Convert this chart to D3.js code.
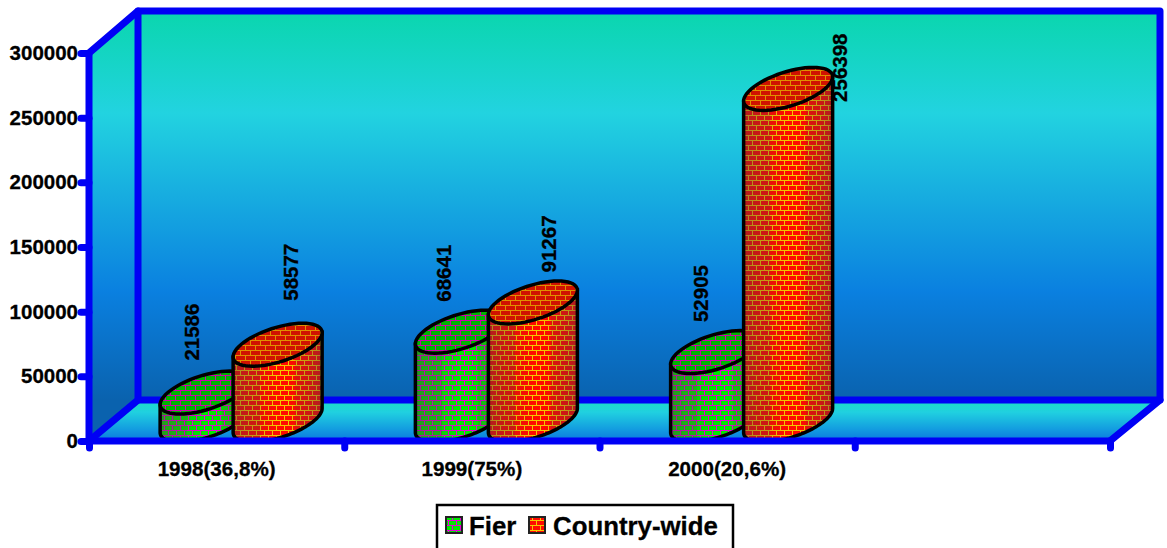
<!DOCTYPE html>
<html lang="en">
<head>
<meta charset="UTF-8">
<title>Fier / Country-wide</title>
<script src="https://d3js.org/d3.v7.min.js"></script>
<style>
  html, body { margin: 0; background: #fff; overflow: hidden; }
  svg { display: block; }
  text { font-family: "Liberation Sans", Arial, sans-serif; font-weight: bold; fill: #000; stroke: #000; stroke-width: .3px; }
  .axis path { display: none; }
  .axis line { stroke: #0000f5; stroke-width: 7; stroke-linecap: round; }
  .axis text { font-size: 20.5px; font-family: "Liberation Sans", Arial, sans-serif; font-weight: bold; }
</style>
</head>
<body>
<div id="chart"></div>
<script>
const categories = ["1998(36,8%)", "1999(75%)", "2000(20,6%)", ""];
const seriesNames = ["Fier", "Country-wide"];
const fierValues = [21586, 68641, 52905];
const countryValues = [58577, 91267, 256398];
const yTicks = [0, 50000, 100000, 150000, 200000, 250000, 300000];

const width = 1167, height = 548;
const blue = "#0000f5";

// box of the 3d plot: front plane plus the shift to the back plane
const left = 89, right = 1110, top3d = 53, bottom = 441;
const depthX = 49, depthY = 41;

// cylinder shape
const halfW = 44.5, shearX = 25, shearY = 21.5, barGap = 36.5;

// nudges for the value labels [dx, dy] from centre of the top ellipse
const labelNudge = [
  [[-13, -32], [13, -44]],
  [[-16, -30], [16, -30]],
  [[-14, -30], [52, 13]]
];

const x = d3.scaleBand().domain(categories).range([left, right]);
const y = d3.scaleLinear().domain([0, 300000]).range([bottom, top3d]);

const svg = d3.select("#chart").append("svg").attr("width", width).attr("height", height);
const defs = svg.append("defs");

function vGrad(id, y1, y2, stops) {
  const g = defs.append("linearGradient").attr("id", id)
    .attr("gradientUnits", "userSpaceOnUse")
    .attr("x1", 0).attr("x2", 0).attr("y1", y1).attr("y2", y2);
  stops.forEach(s => g.append("stop").attr("offset", s[0]).attr("stop-color", s[1]));
}
vGrad("wall", top3d - depthY, bottom - depthY, [
  [0, "#0ad6ae"], [0.26, "#22d3e0"], [0.72, "#0a80e0"], [1, "#0a62ae"]
]);
vGrad("floor", bottom - depthY, bottom, [
  [0, "#1cdcc4"], [0.3, "#20d0e0"], [1, "#0a78e0"]
]);

// bricks
function brick(id, w, bg, lineCol) {
  const p = defs.append("pattern").attr("id", id)
    .attr("patternUnits", "userSpaceOnUse").attr("width", w).attr("height", 10);
  p.append("rect").attr("width", w).attr("height", 10).attr("fill", bg);
  p.append("path").attr("d", `M0 .5H${w}M0 5.5H${w}M.5 0V5M${w / 2 + .5} 5V10`)
    .attr("stroke", lineCol).attr("stroke-width", 1).attr("fill", "none");
}
brick("brickFier", 8, "#00e800", "#e800d8");
brick("brickFierTop", 10, "#00b400", "#d000b0");
brick("brickCountry", 8, "#ff0a00", "#f4c800");
brick("brickCountryTop", 10, "#d01200", "#e09000");

// shading across the cylinder, in bands
const shade = defs.append("linearGradient").attr("id", "shade");
[[0, .46], [.08, .38], [.2, .3], [.3, .3], [.3, .14], [.42, .05], [.5, 0], [.62, 0], [.7, .06], [.7, .2], [.86, .3], [1, .46]]
  .forEach(s => shade.append("stop").attr("offset", s[0])
    .attr("stop-color", "#553344").attr("stop-opacity", s[1]));

// walls
const wallLine = d3.line();
const backL = left + depthX, backR = right + depthX + 1;
const backT = top3d - depthY - 1, backB = bottom - depthY;

svg.append("path")
  .attr("d", wallLine([[left, top3d], [backL, backT], [backL, backB], [left, bottom]]) + "Z")
  .attr("fill", "url(#wall)");
svg.append("rect").attr("x", backL).attr("y", backT)
  .attr("width", backR - backL).attr("height", backB - backT).attr("fill", "url(#wall)");
svg.append("path")
  .attr("d", wallLine([[left, bottom], [backL, backB], [backR, backB], [right, bottom]]) + "Z")
  .attr("fill", "url(#floor)");

const frame = svg.append("g").attr("fill", "none").attr("stroke", blue)
  .attr("stroke-width", 7).attr("stroke-linejoin", "round").attr("stroke-linecap", "round");
frame.append("path").attr("d", wallLine([[left, bottom], [left, top3d], [backL, backT], [backR, backT], [backR, backB], [backL, backB]]));
frame.append("path").attr("d", wallLine([[backL, backT], [backL, backB], [left, bottom]]));
frame.append("path").attr("d", wallLine([[backR, backB], [right, bottom]]));

// one ellipse in the sheared depth plane, t from a to b
const ellipseLine = d3.line();
function ellipsePts(cx, cy, a, b) {
  const A = Math.sqrt(halfW * halfW - shearX * shearX);
  return d3.range(0, 61).map(i => {
    const t = a + (b - a) * i / 60;
    return [cx + A * Math.cos(t) + shearX * Math.sin(t), cy - shearY * Math.sin(t)];
  });
}

// angle of the left/right extreme of the ellipse
const tExt = Math.atan2(shearX, Math.sqrt(halfW * halfW - shearX * shearX));

function cylinder(g, cx, value, body, cap) {
  const base = y(0) - depthY / 2;
  const topY = y(value) - depthY / 2;
  const lower = ellipsePts(cx, base, tExt + Math.PI, tExt + 2 * Math.PI);
  const topLeft = ellipsePts(cx, topY, tExt + Math.PI, tExt + Math.PI)[0];
  const topRight = ellipsePts(cx, topY, tExt, tExt)[0];
  const sideD = ellipseLine([topLeft, ...lower, topRight]) + "Z";
  const capD = ellipseLine(ellipsePts(cx, topY, 0, 2 * Math.PI)) + "Z";

  g.append("path").attr("d", sideD).attr("fill", `url(#${body})`);
  g.append("path").attr("d", sideD).attr("fill", "url(#shade)");
  g.append("path").attr("d", sideD).attr("fill", "none").attr("stroke", "#000").attr("stroke-width", 3.5);
  g.append("path").attr("d", capD).attr("fill", `url(#${cap})`)
    .attr("stroke", "#000").attr("stroke-width", 3.5);
}

const bars = svg.append("g");
const labelPos = [];
fierValues.forEach((v, i) => {
  const mid = x(categories[i]) + x.bandwidth() / 2 + depthX / 2;
  cylinder(bars, mid - barGap, v, "brickFier", "brickFierTop");
  cylinder(bars, mid + barGap, countryValues[i], "brickCountry", "brickCountryTop");
  labelPos.push({ v, cx: mid - barGap, n: labelNudge[i][0] });
  labelPos.push({ v: countryValues[i], cx: mid + barGap, n: labelNudge[i][1] });
});

// front edge goes over the bars
svg.append("path").attr("d", wallLine([[left, bottom], [right, bottom]]))
  .attr("stroke", blue).attr("stroke-width", 7).attr("stroke-linecap", "round");

// axes
svg.append("g").attr("class", "axis").attr("transform", `translate(${left},0)`)
  .call(d3.axisLeft(y).tickValues(yTicks).tickFormat(d3.format("d")).tickSize(8).tickPadding(3));

const edges = d3.scaleLinear().domain([0, categories.length]).range([left, right]);
svg.append("g").attr("class", "axis").attr("transform", `translate(0,${bottom})`)
  .call(d3.axisBottom(edges).ticks(categories.length).tickFormat("").tickSize(7));

svg.append("g").selectAll("text").data(categories.filter(d => d)).join("text")
  .attr("x", d => x(d) + x.bandwidth() / 2)
  .attr("y", 476)
  .attr("text-anchor", "middle")
  .attr("font-size", 20.6)
  .text(d => d);

// value labels
svg.append("g").selectAll("text").data(labelPos).join("text")
  .attr("transform", d => `translate(${d.cx + d.n[0] + 7},${y(d.v) - depthY / 2 + d.n[1]}) rotate(-90)`)
  .attr("font-size", 20.5)
  .text(d => d.v);

// legend, the box runs off the bottom of the picture
const legend = svg.append("g");
legend.append("rect").attr("x", 437).attr("y", 505).attr("width", 296).attr("height", 60)
  .attr("fill", "#fff").attr("stroke", "#000").attr("stroke-width", 2.5);
const legendX = [446, 529], legendTextX = [469, 553];
seriesNames.forEach((name, i) => {
  legend.append("rect").attr("x", legendX[i]).attr("y", 517).attr("width", 16).attr("height", 16)
    .attr("fill", i ? "url(#brickCountry)" : "url(#brickFier)")
    .attr("stroke", "#222").attr("stroke-width", 2);
  legend.append("text").attr("x", legendTextX[i]).attr("y", 535)
    .attr("font-size", 25.8).text(name);
});
</script>
</body>
</html>
